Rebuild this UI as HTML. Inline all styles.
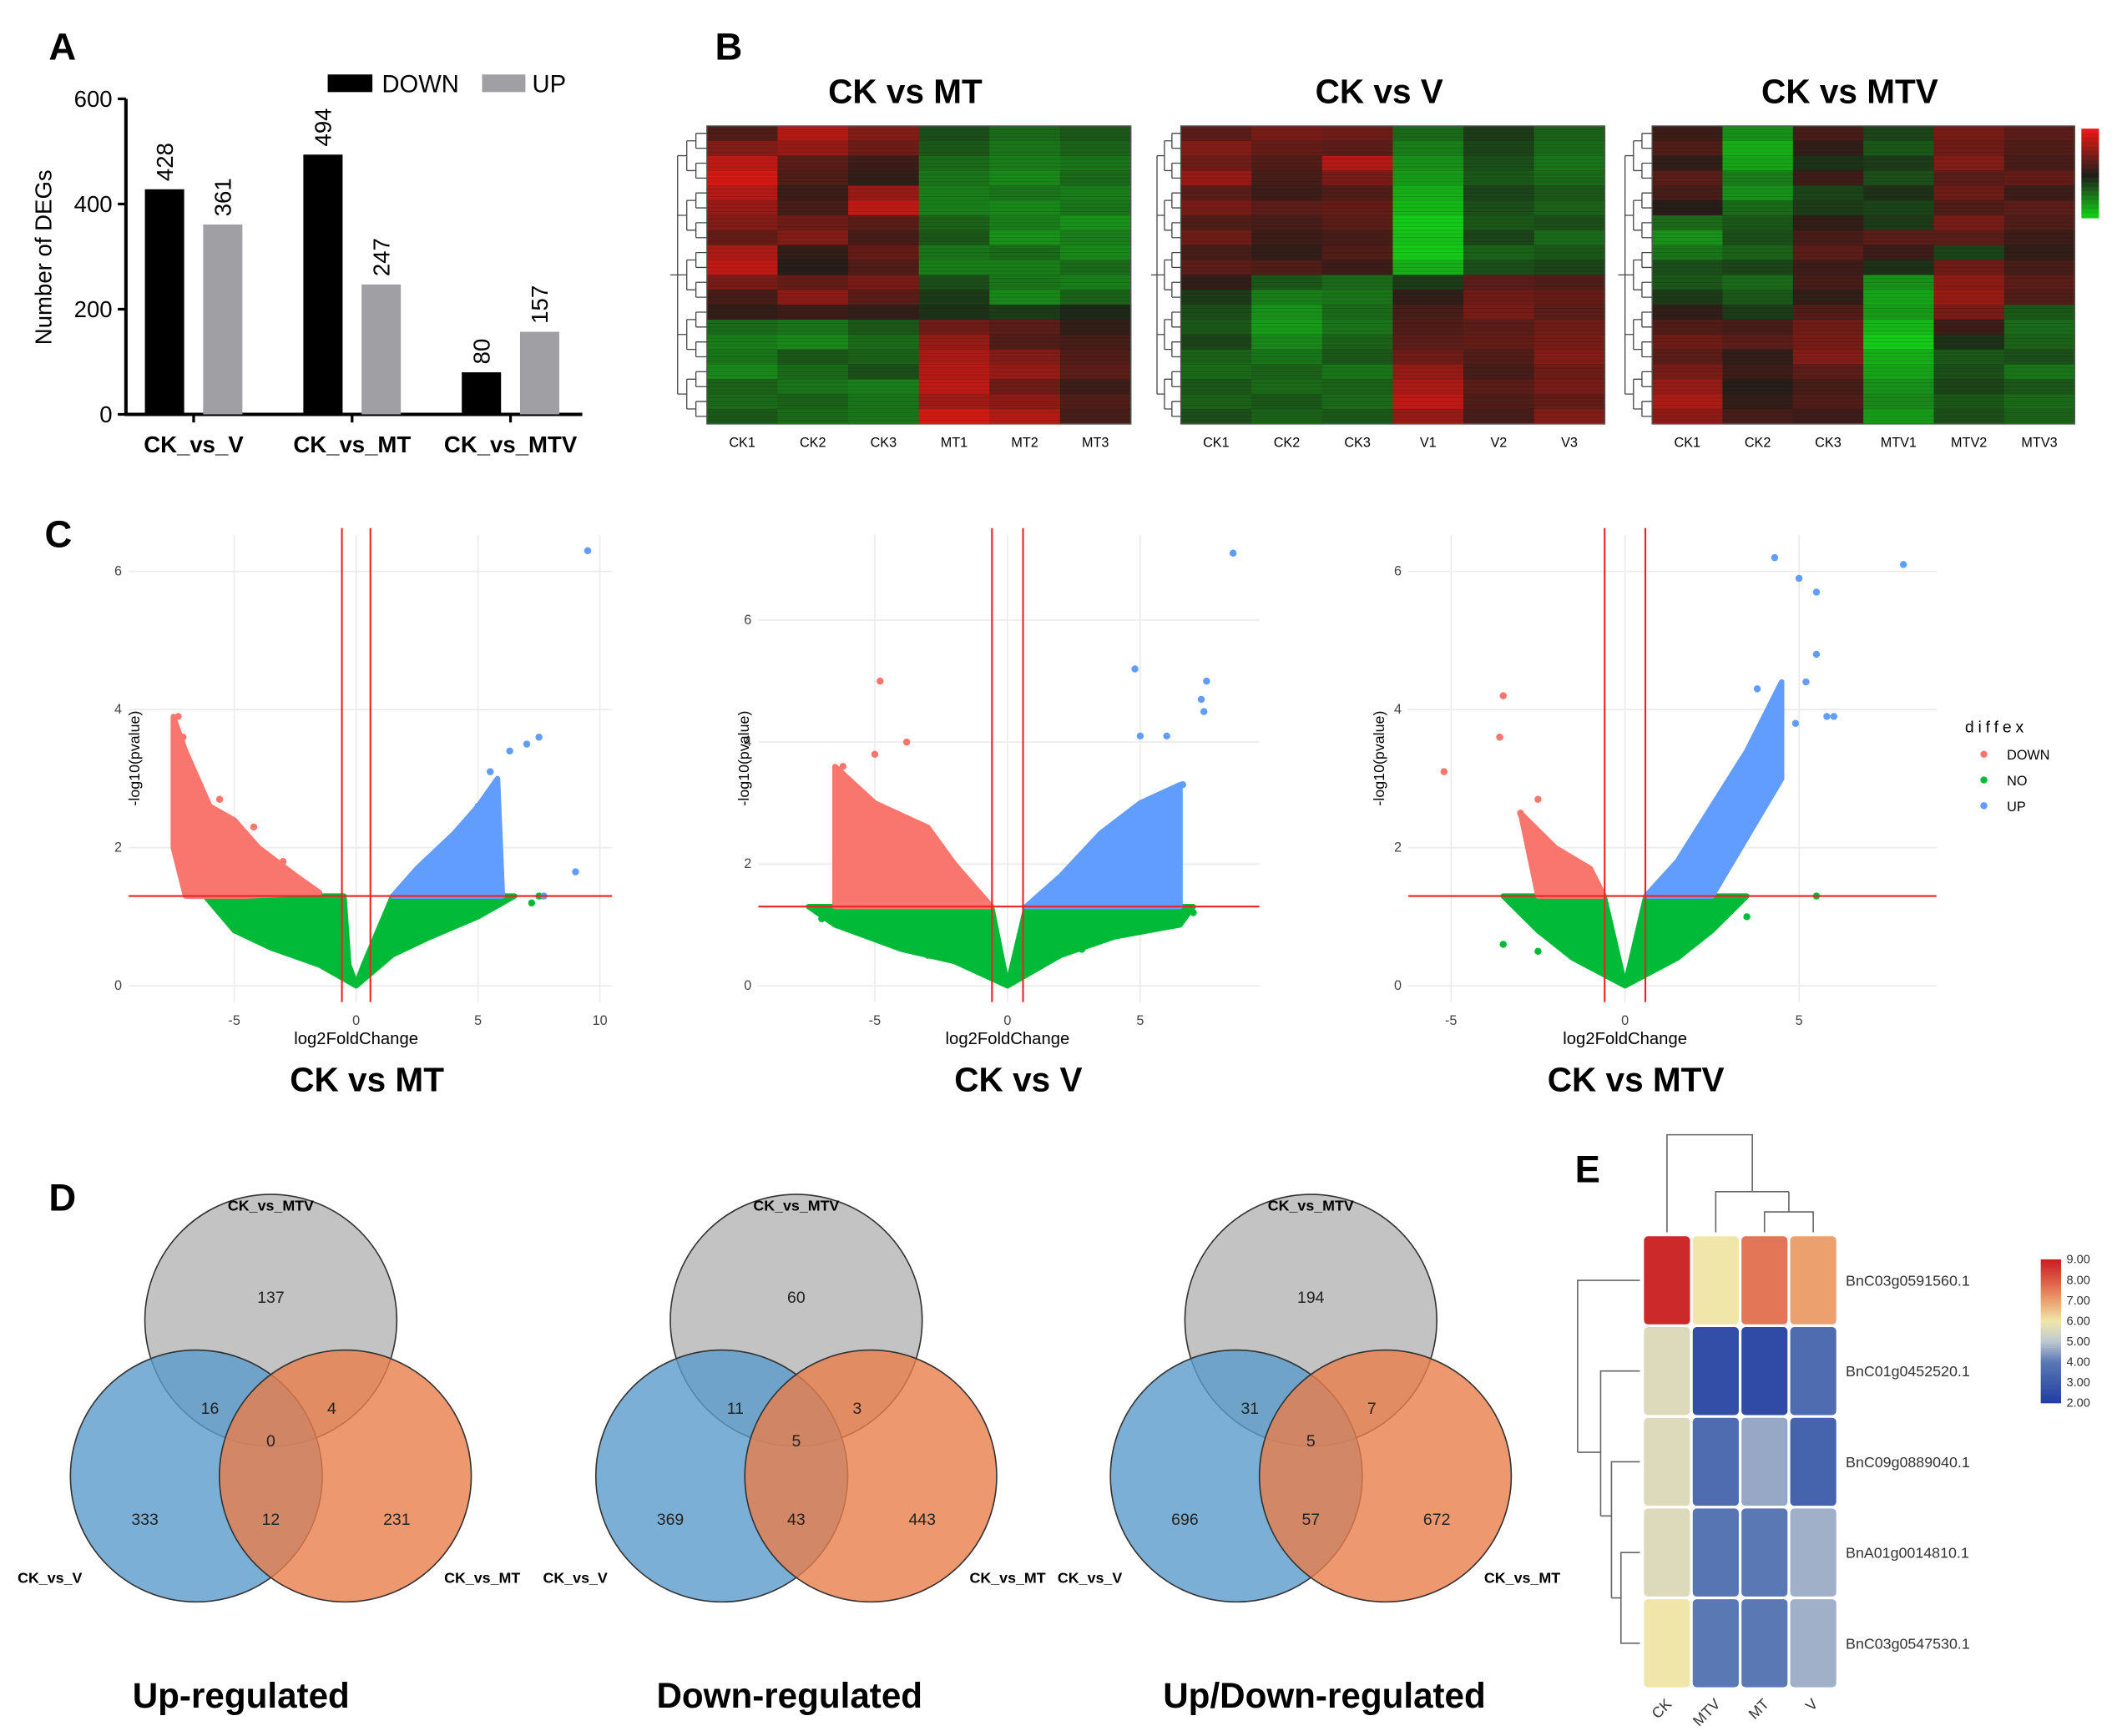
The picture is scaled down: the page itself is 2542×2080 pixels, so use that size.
<!DOCTYPE html>
<html><head><meta charset="utf-8">
<style>
html,body{margin:0;padding:0;background:#fff;}
svg{display:block;font-family:"Liberation Sans",Arial,sans-serif;}
</style></head>
<body>
<svg id="fig" width="2542" height="2080" viewBox="0 0 1567 1282" preserveAspectRatio="none" xmlns="http://www.w3.org/2000/svg">
<rect width="1567" height="1282" fill="#fff"/>
<g font-weight="bold" font-size="28" fill="#000">
<text x="36" y="44">A</text>
<text x="528" y="44">B</text>
<text x="33" y="404">C</text>
<text x="36" y="894">D</text>
<text x="1163" y="873">E</text>
</g>
<g id="gA"></g>
<g id="gB"></g>
<g id="gC"></g>
<g id="gD"></g>
<g id="gE"></g>
</svg>
<script>
// ---------- DATA ----------
const barCategories = ["CK_vs_V","CK_vs_MT","CK_vs_MTV"];
const downValues = [428,494,80];
const upValues = [361,247,157];
const barTicks = [0,200,400,600];

const hmTitles = ["CK vs MT","CK vs V","CK vs MTV"];
const hmCols1 = ["CK1","CK2","CK3","MT1","MT2","MT3"];
const hmCols2 = ["CK1","CK2","CK3","V1","V2","V3"];
const hmCols3 = ["CK1","CK2","CK3","MTV1","MTV2","MTV3"];
const hm1 = [[0.5,1.5,1,-0.5,-0.8,-0.6],[1,1.2,0.8,-0.6,-0.9,-0.7],[1.6,0.6,0.3,-0.8,-1,-0.9],[1.8,0.5,0.2,-0.9,-1.1,-0.8],[1.5,0.3,1.2,-1,-0.9,-1],[1.2,0.4,1.6,-1,-1.1,-0.9],[1,0.8,0.6,-0.7,-1,-1.2],[0.7,1,0.4,-0.6,-1.2,-1],[1.4,0.2,0.7,-0.9,-0.8,-1.1],[1.6,0.1,0.5,-1,-1,-0.8],[0.9,0.7,0.9,-0.5,-0.9,-1],[0.4,1.1,0.6,-0.3,-1.1,-0.7],[0.2,0.3,0.2,-0.2,-0.3,-0.1],[-0.8,-0.9,-0.6,0.8,0.6,0.2],[-1,-1.1,-0.8,1.2,0.5,0.4],[-0.9,-0.6,-0.7,1.4,1,0.5],[-1.1,-0.8,-0.5,1.5,1.2,0.6],[-0.7,-0.9,-1,1.6,0.8,0.3],[-0.8,-0.7,-0.9,1.3,1.1,0.5],[-0.6,-0.8,-0.9,1.8,1.5,0.4]];
const hm2 = [[0.6,0.9,0.8,-0.8,-0.3,-0.7],[1,0.7,0.6,-1,-0.4,-0.8],[0.8,0.5,1.5,-1.2,-0.5,-0.9],[1.2,0.4,0.9,-1.3,-0.6,-0.8],[0.6,0.3,0.5,-1.5,-0.4,-0.6],[0.9,0.6,0.7,-1.6,-0.5,-0.7],[0.5,0.4,0.6,-1.8,-0.6,-0.5],[0.8,0.3,0.4,-1.7,-0.4,-0.8],[0.4,0.2,0.5,-1.8,-0.7,-0.6],[0.6,0.5,0.3,-1.5,-0.5,-0.4],[0.2,-0.6,-0.8,-0.3,0.6,0.5],[-0.3,-1,-0.9,0.2,0.8,0.7],[-0.5,-1.2,-0.8,0.4,0.9,0.6],[-0.6,-1.3,-0.9,0.5,0.6,0.8],[-0.4,-1.1,-0.7,0.6,0.7,0.9],[-0.7,-0.9,-0.6,0.8,0.5,1],[-0.8,-0.7,-0.9,1.2,0.4,0.8],[-0.6,-0.8,-0.7,1.4,0.6,0.9],[-0.7,-0.6,-0.8,1.6,0.5,0.7],[-0.5,-0.7,-0.6,1.2,0.4,1]];
const hm3 = [[0.3,-1.2,0.4,-0.4,0.9,0.6],[0.5,-1.5,0.2,-0.6,0.8,0.5],[0.2,-1.4,-0.2,-0.3,1,0.4],[0.6,-1,0.3,-0.5,0.6,0.7],[0.4,-1.2,-0.4,-0.2,0.8,0.3],[0.1,-0.8,-0.3,-0.4,0.5,0.6],[-0.8,-0.6,0.2,-0.3,0.9,0.5],[-1.2,-0.5,0.4,0.6,0.6,0.3],[-0.9,-0.7,0.6,0.3,-0.4,0.2],[-0.5,-0.4,0.3,-0.2,0.8,0.4],[-0.6,-0.8,0.4,-1.2,1.1,0.6],[-0.3,-0.6,0.2,-1.4,1.2,0.5],[0.2,-0.3,0.5,-1.3,0.9,-0.6],[0.5,0.4,0.8,-1.6,0.3,-0.8],[0.8,0.6,0.9,-1.8,-0.2,-0.7],[0.6,0.2,1,-1.5,-0.6,-0.5],[0.9,0.3,0.6,-1.4,-0.5,-0.9],[1.2,0.1,0.4,-1.2,-0.4,-0.6],[1.4,0.2,0.5,-1.1,-0.6,-0.8],[1.1,0.4,0.3,-1.3,-0.5,-0.7]];

const volTitles = ["CK vs MT","CK vs V","CK vs MTV"];
const vol1Green = [[-6.2,1.3],[-0.5,1.3],[-0.3,0.3],[0,0.02],[0.3,0.3],[1.5,1.3],[6.5,1.3],[5,1.0],[3,0.7],[1.5,0.45],[0,0],[-1.5,0.3],[-3.5,0.55],[-5,0.8]];
const vol1Red = [[-7.5,3.9],[-7,3.4],[-6,2.6],[-5,2.4],[-4,2.0],[-2.5,1.6],[-1.5,1.35],[-4.5,1.3],[-7,1.3],[-7.5,2]];
const vol1Blue = [[1.5,1.3],[2.5,1.7],[4,2.2],[5,2.6],[5.8,3.0],[6,1.3]];
const vol1RedPts = [[-7.3,3.9],[-7.1,3.6],[-6.4,2.9],[-5.6,2.7],[-4.2,2.3],[-3,1.8]];
const vol1BluePts = [[9.5,6.3],[7.5,3.6],[7,3.5],[6.3,3.4],[5.5,3.1],[9,1.65],[7.7,1.3],[5,2.6]];
const vol1GreenPts = [[7.2,1.2],[7.5,1.3]];

const vol2Green = [[-7.5,1.3],[-0.6,1.3],[0,0],[0.7,1.3],[7,1.3],[6.5,1.0],[4,0.8],[2,0.5],[0,0],[-2,0.4],[-4,0.6],[-6.5,1.0]];
const vol2Red = [[-6.5,3.6],[-5,3.0],[-3,2.6],[-2,2.0],[-1,1.5],[-0.6,1.3],[-6.5,1.3]];
const vol2Blue = [[0.7,1.3],[2,1.8],[3.5,2.5],[5,3.0],[6.5,3.3],[6.5,1.3]];
const vol2RedPts = [[-4.8,5.0],[-3.8,4.0],[-5,3.8],[-6.2,3.6]];
const vol2BluePts = [[4.8,5.2],[7.5,5.0],[8.5,7.1],[6,4.1],[5,4.1],[7.3,4.7],[7.4,4.5],[6.6,3.3]];
const vol2GreenPts = [[7,1.2],[6.6,1.1],[-7,1.1],[-3,0.5],[4,0.9],[-6,1.2],[2.8,0.6]];

const vol3Green = [[-3.5,1.3],[-0.6,1.3],[0,0],[0.6,1.3],[3.5,1.3],[2.5,0.8],[1.5,0.4],[0,0],[-1.5,0.4],[-2.5,0.8]];
const vol3Red = [[-3,2.5],[-2,2],[-1,1.7],[-0.6,1.3],[-2.5,1.3]];
const vol3Blue = [[0.6,1.3],[1.5,1.8],[2.5,2.6],[3.5,3.4],[4.5,4.4],[4.5,3.0],[2.5,1.3]];
const vol3RedPts = [[-3.5,4.2],[-3.6,3.6],[-5.2,3.1],[-2.5,2.7],[-3,2.5]];
const vol3BluePts = [[4.3,6.2],[5.0,5.9],[5.5,5.7],[8,6.1],[5.5,4.8],[5.8,3.9],[6,3.9],[3.8,4.3],[5.2,4.4],[4.9,3.8]];
const vol3GreenPts = [[-3.5,0.6],[3.5,1.0],[5.5,1.3],[-2.5,0.5]];

const vennTitles = ["Up-regulated","Down-regulated","Up/Down-regulated"];
const vennCounts = [[137,16,4,0,333,12,231],[60,11,3,5,369,43,443],[194,31,7,5,696,57,672]];

const eRows = ["BnC03g0591560.1","BnC01g0452520.1","BnC09g0889040.1","BnA01g0014810.1","BnC03g0547530.1"];
const eCols = ["CK","MTV","MT","V"];
const eVals = [[8.8,6.0,7.6,7.0],[5.6,2.6,2.5,3.6],[5.6,3.6,4.6,3.3],[5.6,3.9,4.0,4.7],[6.0,4.0,4.0,4.7]];
const eTicks = [2,3,4,5,6,7,8,9];

// ---------- helpers ----------
const NS="http://www.w3.org/2000/svg";
function mk(parent,tag,attrs,text){const e=document.createElementNS(NS,tag);for(const k in attrs)e.setAttribute(k,attrs[k]);if(text!==undefined)e.textContent=text;parent.appendChild(e);return e;}

// ---------- Panel A ----------
(function(){
const g=document.getElementById('gA');
const x0=93,y0=306,yTop=73;
const ys=v=>y0-(v/600)*(y0-yTop);
mk(g,'line',{x1:x0,y1:yTop,x2:x0,y2:y0+1,stroke:'#000','stroke-width':2.5});
mk(g,'line',{x1:x0-1,y1:y0,x2:430,y2:y0,stroke:'#000','stroke-width':2.5});
barTicks.forEach(t=>{mk(g,'line',{x1:x0-6,y1:ys(t),x2:x0,y2:ys(t),stroke:'#000','stroke-width':2});
 const l=mk(g,'text',{x:x0-10,y:ys(t)+6,'text-anchor':'end','font-size':17},t);
 });
const yt=mk(g,'text',{x:38,y:190,'font-size':17,'text-anchor':'middle',transform:'rotate(-90 38 190)'},'Number of DEGs');

const groupW=117,bw=29;
barCategories.forEach((c,i)=>{
 const gx=107+i*groupW;
 [[downValues[i],'#000',gx],[upValues[i],'#a0a0a4',gx+43]].forEach(([v,col,bx],j)=>{
  const r=mk(g,'rect',{x:bx,y:ys(v),width:bw,height:y0-ys(v),fill:col});
  
  
  const tx=bx+bw/2+6,ty=ys(v)-6;
  const t=mk(g,'text',{x:tx,y:ty,'font-size':17,transform:`rotate(-90 ${tx} ${ty})`},v);
  
 });
 const l=mk(g,'text',{x:gx+36,y:334,'text-anchor':'middle','font-size':17,'font-weight':'bold'},c);
 
 mk(g,'line',{x1:gx+36,y1:y0,x2:gx+36,y2:y0+6,stroke:'#000','stroke-width':2});
});
const lg=mk(g,'g',{});
mk(lg,'rect',{x:242,y:55,width:33,height:13,fill:'#000'});
mk(lg,'text',{x:282,y:68,'font-size':18},'DOWN');
mk(lg,'rect',{x:356,y:55,width:32,height:13,fill:'#a0a0a4'});
mk(lg,'text',{x:393,y:68,'font-size':18},'UP');
})();

// ---------- Panel B ----------
function hmColor(v){v=Math.max(-2,Math.min(2,v));
 if(v>=0){const t=v/2;return `rgb(${Math.round(30+200*t)},${Math.round(30-5*t)},${Math.round(25-5*t)})`;}
 const t=-v/2;return `rgb(${Math.round(30-10*t)},${Math.round(30+190*t)},${Math.round(25)})`;}
(function(){
const g=document.getElementById('gB');
const specs=[[hm1,hmCols1,522,835,495],[hm2,hmCols2,872,1185,850],[hm3,hmCols3,1220,1532,1195]];
specs.forEach(([m,cols,x1,x2,dx],k)=>{
 const sub=mk(g,'g',{});
 const y1=93,y2=313,cw=(x2-x1)/cols.length,rh=(y2-y1)/m.length;
 m.forEach((row,r)=>row.forEach((v,c)=>{
  const cell=mk(sub,'rect',{x:x1+c*cw,y:y1+r*rh,width:cw+0.5,height:rh+0.5,fill:hmColor(v)});
  
 }));
 for(let r=0;r<m.length*4;r++){mk(sub,'line',{x1:x1,x2:x2,y1:y1+r*rh/4,y2:y1+r*rh/4,stroke:'rgba(0,0,0,0.12)','stroke-width':0.6});}
 mk(sub,'rect',{x:x1,y:y1,width:x2-x1,height:y2-y1,fill:'none',stroke:'#555','stroke-width':0.8});
 let d='';const w=x1-dx;
 for(let r=0;r<m.length;r++){const yy=y1+(r+0.5)*rh;d+=`M${x1} ${yy}H${x1-w*0.3}`;}
 for(let r=0;r<m.length;r+=2){const a=y1+(r+0.5)*rh,b=y1+(r+1.5)*rh;d+=`M${x1-w*0.3} ${a}V${b}M${x1-w*0.3} ${(a+b)/2}H${x1-w*0.55}`;}
 for(let r=0;r<m.length;r+=4){const a=y1+(r+1)*rh,b=y1+Math.min(r+3,m.length-1)*rh;d+=`M${x1-w*0.55} ${a}V${b}M${x1-w*0.55} ${(a+b)/2}H${x1-w*0.8}`;}
 d+=`M${x1-w*0.8} ${y1+2*rh}V${y1+(m.length-2)*rh}M${x1-w*0.8} ${(y1+y2)/2}H${dx}`;
 const dd=mk(sub,'path',{d:d,stroke:'#444','stroke-width':0.8,fill:'none'});
 cols.forEach((c,i)=>{const t=mk(sub,'text',{x:x1+(i+0.5)*cw,y:330,'text-anchor':'middle','font-size':10},c);});
 const tt=mk(sub,'text',{x:(x1+x2)/2-10,y:76,'text-anchor':'middle','font-size':25,'font-weight':'bold'},hmTitles[k]);
 
});
const cb=mk(g,'g',{});
for(let i=0;i<20;i++){mk(cb,'rect',{x:1537,y:95+i*3.3,width:13,height:3.5,fill:hmColor(2-i*0.2)});}
})();

// ---------- Panel C ----------
(function(){
const g=document.getElementById('gC');
const specs=[
 {x0:95,x1:452,xz:263,xu:18,yu:51,xt:[-5,0,5,10],yt:[0,2,4,6],green:vol1Green,red:vol1Red,blue:vol1Blue,rp:vol1RedPts,bp:vol1BluePts,gp:vol1GreenPts,ylx:103},
 {x0:560,x1:930,xz:744,xu:19.6,yu:45,xt:[-5,0,5],yt:[0,2,4,6],green:vol2Green,red:vol2Red,blue:vol2Blue,rp:vol2RedPts,bp:vol2BluePts,gp:vol2GreenPts,ylx:553},
 {x0:1040,x1:1430,xz:1200,xu:25.7,yu:51,xt:[-5,0,5],yt:[0,2,4,6],green:vol3Green,red:vol3Red,blue:vol3Blue,rp:vol3RedPts,bp:vol3BluePts,gp:vol3GreenPts,ylx:1022}];
specs.forEach((s,k)=>{
 const sub=mk(g,'g',{});
 const X=v=>s.xz+v*s.xu,Y=v=>728-v*s.yu;
 const yTop=395,yBot=740;
 s.xt.forEach(t=>{mk(sub,'line',{x1:X(t),x2:X(t),y1:yTop,y2:yBot,stroke:'#ebebeb','stroke-width':1});
  const l=mk(sub,'text',{x:X(t),y:757,'text-anchor':'middle','font-size':10,fill:'#444'},t);});
 s.yt.forEach(t=>{mk(sub,'line',{x1:s.x0,x2:s.x1,y1:Y(t),y2:Y(t),stroke:'#ebebeb','stroke-width':1});
  const l=mk(sub,'text',{x:s.x0-5,y:Y(t)+3,'text-anchor':'end','font-size':10,fill:'#444'},t);});
 const poly=(pts,col,name)=>{const p=mk(sub,'polygon',{points:pts.map(p=>X(p[0])+','+Y(p[1])).join(' '),fill:col,stroke:col,'stroke-width':4,'stroke-linejoin':'round'});};
 const dots=(pts,col,name)=>pts.forEach(p=>{const c=mk(sub,'circle',{cx:X(p[0]),cy:Y(p[1]),r:2.6,fill:col});});
 poly(s.green,'#00ba38','points-no');poly(s.red,'#f8766d','points-down');poly(s.blue,'#619cff','points-up');
 dots(s.gp,'#00ba38','point-no');dots(s.rp,'#f8766d','point-down');dots(s.bp,'#619cff','point-up');
 mk(sub,'line',{x1:X(-0.585),x2:X(-0.585),y1:yTop-5,y2:yBot,stroke:'#ee2222','stroke-width':1.3});
 mk(sub,'line',{x1:X(0.585),x2:X(0.585),y1:yTop-5,y2:yBot,stroke:'#ee2222','stroke-width':1.3});
 mk(sub,'line',{x1:s.x0,x2:s.x1,y1:Y(1.3),y2:Y(1.3),stroke:'#ee2222','stroke-width':1.3});
 const xl=mk(sub,'text',{x:X(0),y:771,'text-anchor':'middle','font-size':12.5},'log2FoldChange');
 const yl=mk(sub,'text',{x:s.ylx,y:560,'text-anchor':'middle','font-size':11,transform:`rotate(-90 ${s.ylx} 560)`},'-log10(pvalue)');
 const tt=mk(sub,'text',{x:X(0)+8,y:806,'text-anchor':'middle','font-size':25,'font-weight':'bold'},volTitles[k]);
});
const lg=mk(g,'g',{});
mk(lg,'text',{x:1451,y:541,'font-size':12,'letter-spacing':3},'diffex');
[['DOWN','#f8766d',557],['NO','#00ba38',576],['UP','#619cff',595]].forEach(([n,c,y])=>{mk(lg,'circle',{cx:1465,cy:y,r:2.6,fill:c});mk(lg,'text',{x:1482,y:y+4,'font-size':10},n);});
})();

// ---------- Panel D ----------
(function(){
const g=document.getElementById('gD');
const cxs=[200,588,968];
const titleOff=[-22,-5,10];
cxs.forEach((cx,k)=>{
 const sub=mk(g,'g',{});
 const r=93,T=[cx,975],L=[cx-55,1090],R=[cx+55,1090];
 [[T,'#b4b4b4','circle-ck-vs-mtv'],[L,'#5a9bcb','circle-ck-vs-v'],[R,'#e97e4b','circle-ck-vs-mt']].forEach(([c,col,n])=>{
  const e=mk(sub,'circle',{cx:c[0],cy:c[1],r:r,fill:col,'fill-opacity':0.8,stroke:'#333','stroke-width':1});});
 const v=vennCounts[k];
 const pos=[[cx,962],[cx-45,1044],[cx+45,1044],[cx,1068],[cx-93,1126],[cx,1126],[cx+93,1126]];
 pos.forEach((p,i)=>{const t=mk(sub,'text',{x:p[0],y:p[1],'text-anchor':'middle','font-size':12,fill:'#222'},v[i]);});
 [['CK_vs_MTV',cx,894,'middle'],['CK_vs_V',cx-187,1169,'start'],['CK_vs_MT',cx+128,1169,'start']].forEach(([s,x,y,a])=>{const t=mk(sub,'text',{x:x,y:y,'text-anchor':a,'font-size':11,'font-weight':'bold'},s);});
 const tt=mk(sub,'text',{x:cx+titleOff[k],y:1261,'text-anchor':'middle','font-size':26,'font-weight':'bold'},vennTitles[k]);
});
})();

// ---------- Panel E ----------
function eColor(v){const stops=[[2,[33,60,160]],[4,[90,120,180]],[5,[190,200,210]],[6,[240,230,170]],[7,[235,160,110]],[8,[220,90,70]],[9,[200,30,35]]];
 for(let i=0;i<stops.length-1;i++){const [a,ca]=stops[i],[b,cb]=stops[i+1];if(v<=b||i==stops.length-2){const t=Math.max(0,Math.min(1,(v-a)/(b-a)));return `rgb(${ca.map((x,j)=>Math.round(x+(cb[j]-x)*t)).join(',')})`;}}}
(function(){
const g=document.getElementById('gE');
const x0=1213,y0=912,cw=36,rh=67;
eVals.forEach((row,r)=>row.forEach((v,c)=>{
 const e=mk(g,'rect',{x:x0+c*cw+1,y:y0+r*rh+1,width:cw-2,height:rh-2,rx:3,fill:eColor(v)});
 }));
eRows.forEach((n,r)=>{const t=mk(g,'text',{x:x0+4*cw+6,y:y0+r*rh+rh/2+4,'font-size':11,fill:'#333'},n);});
eCols.forEach((n,c)=>{const x=x0+c*cw+cw/2+4,y=y0+5*rh+12;const t=mk(g,'text',{x:x,y:y,'font-size':11,'text-anchor':'end',fill:'#333',transform:`rotate(-45 ${x} ${y})`},n);});
const cx=c=>x0+c*cw+cw/2;
const dt=mk(g,'path',{d:`M${cx(2)} 910V895H${cx(3)}V910M${(cx(2)+cx(3))/2} 895V880M${cx(1)} 910V880H${(cx(2)+cx(3))/2}M${(cx(1)+(cx(2)+cx(3))/2)/2} 880V866M${cx(0)} 910V838H${(cx(1)+(cx(2)+cx(3))/2)/2}V866`,stroke:'#666',fill:'none','stroke-width':1});

const ry=r=>y0+r*rh+rh/2;
const dl=mk(g,'path',{d:`M1211 ${ry(3)}H1197V${ry(4)}H1211M1197 ${(ry(3)+ry(4))/2}H1190M1211 ${ry(2)}H1190V${(ry(3)+ry(4))/2}M1190 ${ry(2)+40}H1182M1211 ${ry(1)}H1182V${ry(2)+40}M1182 ${ry(1)+60}H1165M1211 ${ry(0)}H1165V${ry(1)+60}`,stroke:'#666',fill:'none','stroke-width':1});

const cb=mk(g,'g',{});
const cy=v=>1036-(v-2)/7*106;
for(let i=0;i<70;i++){const v=2+i*0.1;mk(cb,'rect',{x:1507,y:cy(v+0.1),width:15,height:1.8,fill:eColor(v+0.05)});}
eTicks.forEach(t=>{mk(cb,'text',{x:1526,y:cy(t)+3,'font-size':9,fill:'#333'},t.toFixed(2));});
})();
</script>
</body></html>
